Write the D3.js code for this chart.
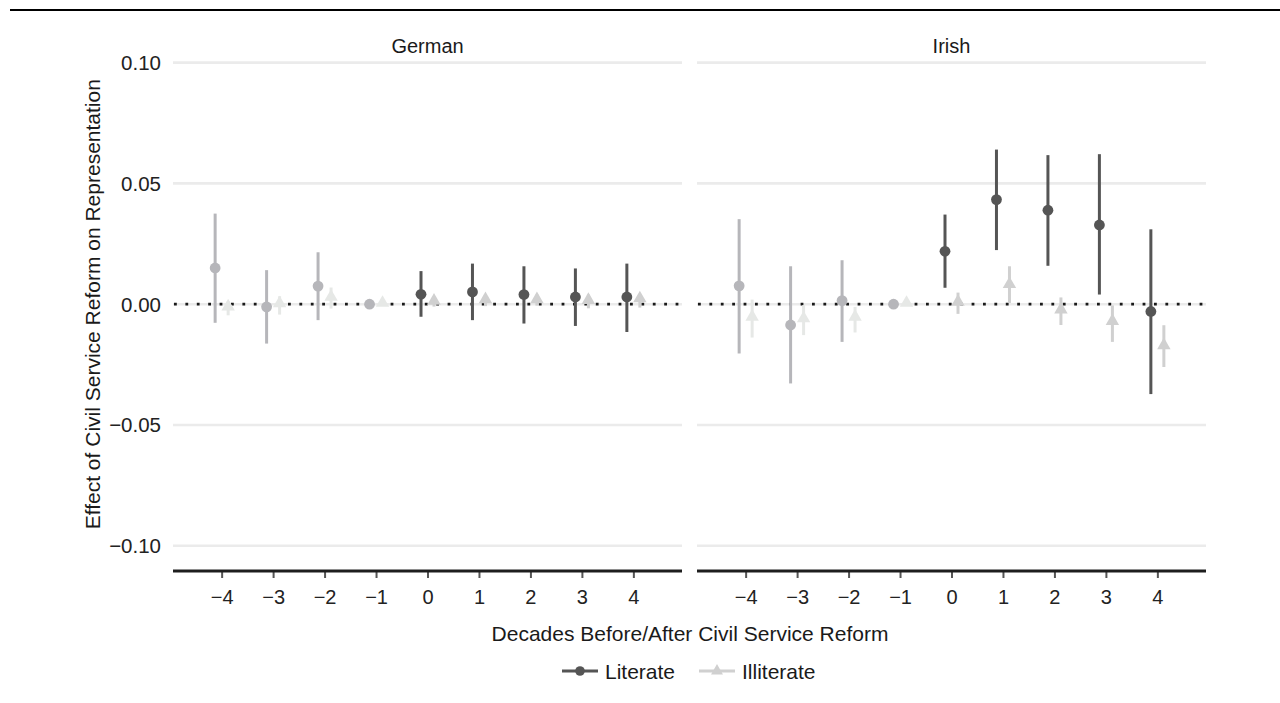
<!DOCTYPE html>
<html>
<head>
<meta charset="utf-8">
<script src="https://cdn.jsdelivr.net/npm/d3@7"></script>
<style>
  html, body { margin: 0; padding: 0; background: #fff; }
  svg { display: block; font-family: "Liberation Sans", Arial, Helvetica, sans-serif; }
</style>
</head>
<body>
<svg id="chart" width="1280" height="703"></svg>
<script>
// Event-study estimates: effect of civil service reform on representation
const panels = ["German", "Irish"];
const decades = [-4, -3, -2, -1, 0, 1, 2, 3, 4];
const groups = ["Literate", "Illiterate"];
const yTicks = [0.10, 0.05, 0.00, -0.05, -0.10];

// point estimates and 95% interval bounds, by decade
const germanLiterate      = [0.0150, -0.0011, 0.0075, 0.0000, 0.0041, 0.0051, 0.0040, 0.0030, 0.0030];
const germanLiterateLo    = [-0.0077, -0.0163, -0.0066, -0.0005, -0.0052, -0.0066, -0.0080, -0.0090, -0.0115];
const germanLiterateHi    = [0.0375, 0.0141, 0.0215, 0.0005, 0.0137, 0.0168, 0.0157, 0.0148, 0.0168];
const germanIlliterate    = [-0.0010, 0.0003, 0.0030, 0.0005, 0.0014, 0.0020, 0.0020, 0.0017, 0.0024];
const germanIlliterateLo  = [-0.0046, -0.0043, -0.0018, -0.0001, -0.0010, -0.0008, -0.0006, -0.0017, -0.0014];
const germanIlliterateHi  = [0.0012, 0.0033, 0.0069, 0.0010, 0.0030, 0.0040, 0.0040, 0.0040, 0.0037];
const irishLiterate       = [0.0076, -0.0086, 0.0015, 0.0000, 0.0219, 0.0433, 0.0389, 0.0328, -0.0030];
const irishLiterateLo     = [-0.0204, -0.0328, -0.0156, -0.0005, 0.0068, 0.0224, 0.0159, 0.0040, -0.0372];
const irishLiterateHi     = [0.0352, 0.0157, 0.0182, 0.0005, 0.0371, 0.0640, 0.0617, 0.0621, 0.0310];
const irishIlliterate     = [-0.0052, -0.0059, -0.0052, 0.0005, 0.0010, 0.0083, -0.0022, -0.0070, -0.0170];
const irishIlliterateLo   = [-0.0138, -0.0128, -0.0117, 0.0000, -0.0040, 0.0005, -0.0086, -0.0156, -0.0260];
const irishIlliterateHi   = [0.0019, -0.0004, -0.0011, 0.0010, 0.0048, 0.0157, 0.0028, -0.0005, -0.0087];

const series = {
  German: {
    Literate:   { est: germanLiterate,   lo: germanLiterateLo,   hi: germanLiterateHi },
    Illiterate: { est: germanIlliterate, lo: germanIlliterateLo, hi: germanIlliterateHi }
  },
  Irish: {
    Literate:   { est: irishLiterate,   lo: irishLiterateLo,   hi: irishLiterateHi },
    Illiterate: { est: irishIlliterate, lo: irishIlliterateLo, hi: irishIlliterateHi }
  }
};

// colours: full tone after reform, faded tone before it
const colors = {
  Literate:   { post: "#555555", pre: "#b6b6ba" },
  Illiterate: { post: "#d0d0d0", pre: "#e6e8e6" }
};
const dodge = { Literate: -6.5, Illiterate: 6.5 };
const FONT = 21;

const svg = d3.select("#chart");

// top rule
svg.append("line").attr("x1", 10).attr("x2", 1280).attr("y1", 10).attr("y2", 10)
  .attr("stroke", "#000").attr("stroke-width", 2.2);

const panelLeft = [173, 697];
const panelWidth = 509;
const plotBottom = 571;

const y = d3.scaleLinear().domain([-0.1, 0.1]).range([545.8, 62.6]);

const triangle = d3.symbol().type(d3.symbolTriangle).size(78);

panels.forEach((p, pi) => {
  const x = d3.scaleLinear().domain([-4.945, 4.945])
    .range([panelLeft[pi], panelLeft[pi] + panelWidth]);
  const g = svg.append("g");

  // horizontal grid
  g.selectAll("line.grid").data(yTicks).join("line")
    .attr("class", "grid")
    .attr("x1", x.range()[0]).attr("x2", x.range()[1])
    .attr("y1", d => y(d)).attr("y2", d => y(d))
    .attr("stroke", "#ebebeb").attr("stroke-width", 2.6);

  // zero reference line
  g.append("line")
    .attr("x1", x.range()[0] + 1).attr("x2", x.range()[1])
    .attr("y1", y(0)).attr("y2", y(0))
    .attr("stroke", "#1a1a1a").attr("stroke-width", 2.8)
    .attr("stroke-dasharray", "2.8 8.6");

  // strip title
  g.append("text").attr("x", (x.range()[0] + x.range()[1]) / 2).attr("y", 53)
    .attr("text-anchor", "middle").attr("font-size", FONT - 1).attr("fill", "#1a1a1a")
    .text(p);

  // x axis
  const axis = d3.axisBottom(x).tickValues(decades).tickSize(7).tickPadding(12)
    .tickFormat(d => d3.format("")(d).replace("-", "\u2212"));
  const ax = g.append("g").attr("transform", `translate(0,${plotBottom})`).call(axis);
  ax.select(".domain").remove();
  ax.selectAll(".tick line").attr("stroke", "#555").attr("stroke-width", 2);
  ax.selectAll(".tick text").attr("font-size", FONT - 1).attr("fill", "#222")
    .attr("font-family", "Liberation Sans, Arial, sans-serif");
  g.append("line").attr("x1", x.range()[0]).attr("x2", x.range()[1])
    .attr("y1", plotBottom).attr("y2", plotBottom)
    .attr("stroke", "#1e1e1e").attr("stroke-width", 3);

  // intervals and points; illiterate drawn first so literate sits on top
  ["Illiterate", "Literate"].forEach(grp => {
    const s = series[p][grp];
    const rows = decades.map((d, i) => ({ d, est: s.est[i], lo: s.lo[i], hi: s.hi[i] }));
    const col = r => (r.d < 0 ? colors[grp].pre : colors[grp].post);
    const gg = g.append("g");
    gg.selectAll("line").data(rows).join("line")
      .attr("x1", r => x(r.d) + dodge[grp]).attr("x2", r => x(r.d) + dodge[grp])
      .attr("y1", r => y(r.lo)).attr("y2", r => y(r.hi))
      .attr("stroke", col).attr("stroke-width", 3);
    if (grp === "Literate") {
      gg.selectAll("circle").data(rows).join("circle")
        .attr("cx", r => x(r.d) + dodge[grp]).attr("cy", r => y(r.est))
        .attr("r", 5.4).attr("fill", col);
    } else {
      gg.selectAll("path").data(rows).join("path")
        .attr("d", triangle)
        .attr("transform", r => `translate(${x(r.d) + dodge[grp]},${y(r.est)})`)
        .attr("fill", col);
    }
  });
});

// y axis labels
svg.append("g").selectAll("text").data(yTicks).join("text")
  .attr("x", 161).attr("y", d => y(d)).attr("dy", "0.36em")
  .attr("text-anchor", "end").attr("font-size", FONT - 0.5).attr("fill", "#222")
  .text(d => d3.format(".2f")(d).replace("-", "\u2212"));

// axis titles
svg.append("text")
  .attr("transform", `translate(100,${y(0)}) rotate(-90)`)
  .attr("text-anchor", "middle").attr("font-size", FONT).attr("fill", "#1a1a1a")
  .text("Effect of Civil Service Reform on Representation");
svg.append("text").attr("x", 690).attr("y", 641)
  .attr("text-anchor", "middle").attr("font-size", FONT).attr("fill", "#1a1a1a")
  .text("Decades Before/After Civil Service Reform");

// legend, centred under the plot area
const legend = svg.append("g").attr("transform", "translate(562,671)");
const legendItems = [
  { name: groups[0], x: 0, color: colors.Literate.post },
  { name: groups[1], x: 137, color: colors.Illiterate.post }
];
legendItems.forEach(it => {
  const lg = legend.append("g").attr("transform", `translate(${it.x},0)`);
  lg.append("line").attr("x1", 0).attr("x2", 36).attr("y1", 0).attr("y2", 0)
    .attr("stroke", it.color).attr("stroke-width", 3);
  if (it.name === "Literate") {
    lg.append("circle").attr("cx", 18).attr("cy", 0).attr("r", 4.8).attr("fill", it.color);
  } else {
    lg.append("path").attr("d", d3.symbol().type(d3.symbolTriangle).size(62))
      .attr("transform", "translate(18,0)").attr("fill", it.color);
  }
  lg.append("text").attr("x", 43).attr("y", 0).attr("dy", "0.36em")
    .attr("font-size", FONT).attr("fill", "#1a1a1a").text(it.name);
});
</script>
</body>
</html>
